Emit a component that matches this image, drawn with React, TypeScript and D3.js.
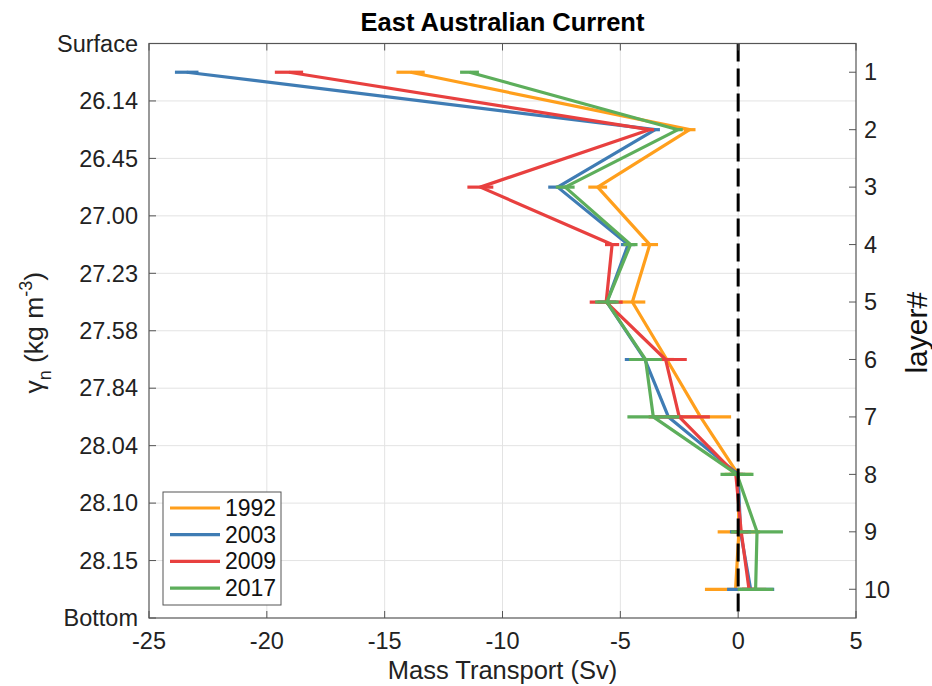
import React, { useEffect, useRef } from 'react';
import * as d3 from 'd3';

// layer numbers (right axis) and neutral density boundaries (left axis)
const layers = [1, 2, 3, 4, 5, 6, 7, 8, 9, 10];
const densityLabels = ['Surface', '26.14', '26.45', '27.00', '27.23', '27.58', '27.84', '28.04', '28.10', '28.15', 'Bottom'];
const xTicks = [-25, -20, -15, -10, -5, 0, 5];

const years = ['1992', '2003', '2009', '2017'];
const colors = ['#FF9F1C', '#3F7CB4', '#E8403F', '#5DAE5B'];

// transport (Sv) per layer and error half-width
const t1992 = [-13.9, -2.06, -5.96, -3.75, -4.49, -3.03, -1.6, 0.0, 0.03, -0.11];
const e1992 = [0.6, 0.25, 0.4, 0.35, 0.55, 0.3, 1.3, 0.57, 0.9, 1.3];
const t2003 = [-23.4, -3.52, -7.66, -4.67, -5.57, -3.96, -2.96, 0.0, 0.1, 0.53];
const e2003 = [0.5, 0.2, 0.4, 0.3, 0.4, 0.85, 0.6, 0.3, 0.45, 1.0];
const t2009 = [-19.06, -3.77, -10.94, -5.35, -5.6, -3.08, -2.5, -0.1, 0.13, 0.46];
const e2009 = [0.6, 0.2, 0.55, 0.3, 0.7, 0.9, 1.3, 0.3, 0.3, 0.3];
const t2017 = [-11.4, -2.55, -7.34, -4.57, -5.57, -3.93, -3.6, -0.05, 0.8, 0.74];
const e2017 = [0.4, 0.2, 0.4, 0.3, 0.5, 0.7, 1.1, 0.7, 1.1, 0.76];

const values = [t1992, t2003, t2009, t2017];
const errors = [e1992, e2003, e2009, e2017];

const FONT = '"Liberation Sans", Arial, Helvetica, sans-serif';

const App = () => {
  const svgRef = useRef<SVGSVGElement>(null);

  useEffect(() => {
    const width = 932;
    const height = 686;
    const margin = { top: 43.5, right: 76, bottom: 68, left: 149 };
    const innerW = width - margin.left - margin.right;
    const innerH = height - margin.top - margin.bottom;

    const root = d3.select(svgRef.current);
    root.selectAll('*').remove();
    root.attr('width', width).attr('height', height);

    const svg = root.append('g').attr('transform', `translate(${margin.left},${margin.top})`);

    const x = d3.scaleLinear().domain([-25, 5]).range([0, innerW]);
    // y in layer units: boundaries at 0..10, layer i centred at i - 0.5
    const y = d3.scaleLinear().domain([0, 10]).range([0, innerH]);

    // grid
    svg.append('g')
      .selectAll('line.vg')
      .data(xTicks.slice(1, -1))
      .enter()
      .append('line')
      .attr('x1', d => x(d)).attr('x2', d => x(d))
      .attr('y1', 0).attr('y2', innerH)
      .attr('stroke', '#e3e3e3').attr('stroke-width', 1);

    svg.append('g')
      .selectAll('line.hg')
      .data(d3.range(1, 10))
      .enter()
      .append('line')
      .attr('x1', 0).attr('x2', innerW)
      .attr('y1', d => y(d)).attr('y2', d => y(d))
      .attr('stroke', '#e3e3e3').attr('stroke-width', 1);

    // series
    const line = d3.line<number>()
      .x(d => x(d))
      .y((d, i) => y(layers[i] - 0.5));

    values.forEach((vals, s) => {
      const g = svg.append('g');
      g.selectAll('line')
        .data(vals)
        .enter()
        .append('line')
        .attr('x1', (d, i) => x(d - errors[s][i]))
        .attr('x2', (d, i) => x(d + errors[s][i]))
        .attr('y1', (d, i) => y(layers[i] - 0.5))
        .attr('y2', (d, i) => y(layers[i] - 0.5))
        .attr('stroke', colors[s])
        .attr('stroke-width', 3.2);
      g.append('path')
        .datum(vals)
        .attr('d', line)
        .attr('fill', 'none')
        .attr('stroke', colors[s])
        .attr('stroke-width', 3.2)
        .attr('stroke-linejoin', 'round');
    });

    // zero line
    svg.append('line')
      .attr('x1', x(0)).attr('x2', x(0))
      .attr('y1', 0).attr('y2', innerH)
      .attr('stroke', '#000')
      .attr('stroke-width', 3)
      .attr('stroke-dasharray', '18,7');

    // axes box
    svg.append('rect')
      .attr('width', innerW).attr('height', innerH)
      .attr('fill', 'none').attr('stroke', '#555').attr('stroke-width', 1.2);

    const tickLen = 7;
    const axisCol = '#555';

    // bottom + top ticks
    const xt = svg.append('g');
    xTicks.forEach(t => {
      xt.append('line').attr('x1', x(t)).attr('x2', x(t)).attr('y1', innerH).attr('y2', innerH - tickLen).attr('stroke', axisCol);
      xt.append('line').attr('x1', x(t)).attr('x2', x(t)).attr('y1', 0).attr('y2', tickLen).attr('stroke', axisCol);
      xt.append('text')
        .attr('x', x(t)).attr('y', innerH + 31)
        .attr('text-anchor', 'middle')
        .style('font-family', FONT).style('font-size', '23.5px')
        .attr('fill', '#222')
        .text(t);
    });

    // left ticks (density)
    const yl = svg.append('g');
    densityLabels.forEach((lab, i) => {
      yl.append('line').attr('x1', 0).attr('x2', tickLen).attr('y1', y(i)).attr('y2', y(i)).attr('stroke', axisCol);
      yl.append('text')
        .attr('x', -11).attr('y', y(i))
        .attr('dy', '0.35em')
        .attr('text-anchor', 'end')
        .style('font-family', FONT).style('font-size', '23.5px')
        .attr('fill', '#222')
        .text(lab);
    });

    // right ticks (layer#)
    const yr = svg.append('g');
    layers.forEach(l => {
      yr.append('line').attr('x1', innerW).attr('x2', innerW - tickLen).attr('y1', y(l - 0.5)).attr('y2', y(l - 0.5)).attr('stroke', axisCol);
      yr.append('text')
        .attr('x', innerW + 8).attr('y', y(l - 0.5))
        .attr('dy', '0.35em')
        .style('font-family', FONT).style('font-size', '23.5px')
        .attr('fill', '#222')
        .text(l);
    });

    // title
    root.append('text')
      .attr('x', margin.left + innerW / 2).attr('y', 31)
      .attr('text-anchor', 'middle')
      .style('font-family', FONT).style('font-size', '25.5px').style('font-weight', 'bold')
      .text('East Australian Current');

    // x label
    root.append('text')
      .attr('x', margin.left + innerW / 2).attr('y', 679)
      .attr('text-anchor', 'middle')
      .style('font-family', FONT).style('font-size', '25.5px')
      .attr('fill', '#222')
      .text('Mass Transport (Sv)');

    // left label
    const yLab = root.append('text')
      .attr('transform', `translate(43,${margin.top + innerH / 2 + 2}) rotate(-90)`)
      .attr('text-anchor', 'middle')
      .style('font-family', FONT).style('font-size', '26.5px')
      .attr('fill', '#222');
    yLab.append('tspan').text('\u03b3');
    yLab.append('tspan').attr('dy', 8).style('font-size', '18px').text('n');
    yLab.append('tspan').attr('dy', -8).text(' (kg m');
    yLab.append('tspan').attr('dy', -11).style('font-size', '18px').text('-3');
    yLab.append('tspan').attr('dy', 11).text(')');

    // right label
    root.append('text')
      .attr('transform', `translate(927,${margin.top + innerH / 2 + 2}) rotate(-90)`)
      .attr('text-anchor', 'middle')
      .style('font-family', FONT).style('font-size', '30px')
      .attr('fill', '#111')
      .text('layer#');

    // legend
    const lg = root.append('g').attr('transform', 'translate(163,492)');
    lg.append('rect')
      .attr('width', 118).attr('height', 113)
      .attr('fill', '#fff').attr('stroke', '#555').attr('stroke-width', 1);
    years.forEach((yr, i) => {
      const cy = 16 + i * 26.7;
      lg.append('line')
        .attr('x1', 7).attr('x2', 57)
        .attr('y1', cy).attr('y2', cy)
        .attr('stroke', colors[i]).attr('stroke-width', 3.2);
      lg.append('text')
        .attr('x', 62).attr('y', cy)
        .attr('dy', '0.35em')
        .style('font-family', FONT).style('font-size', '23px')
        .attr('fill', '#111')
        .text(yr);
    });
  }, []);

  return (
    <svg ref={svgRef} style={{ position: 'absolute', left: 0, top: 0, background: '#fff' }}></svg>
  );
};

export default App;
